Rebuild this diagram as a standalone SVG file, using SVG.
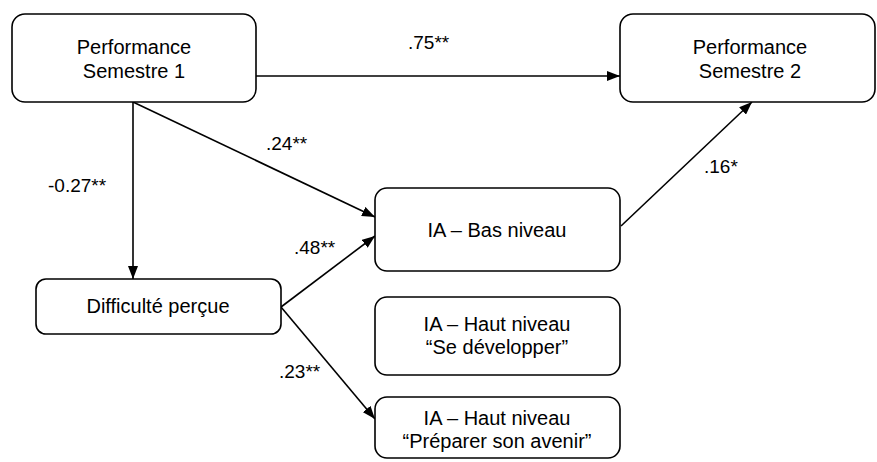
<svg xmlns="http://www.w3.org/2000/svg" width="877" height="462" viewBox="0 0 877 462">
<style>
.box{fill:#fff;stroke:#000;stroke-width:1.6}
.t{font-family:"Liberation Sans",Arial,sans-serif;font-size:20px;fill:#000;text-anchor:middle}
.l{font-family:"Liberation Sans",Arial,sans-serif;font-size:19px;fill:#000}
.c{fill:none;stroke:#000;stroke-width:1.6}
</style>
<defs>
<marker id="ah" markerUnits="userSpaceOnUse" markerWidth="13" markerHeight="10" refX="13" refY="5" orient="auto">
<path d="M0,0 L13,5 L0,10 z" fill="#000"/>
</marker>
</defs>
<rect width="877" height="462" fill="#fff"/>
<g id="connectors">
<path class="c" d="M256,76 L620,76" marker-end="url(#ah)"/>
<path class="c" d="M133,102 L133,279" marker-end="url(#ah)"/>
<path class="c" d="M133,102 L375,217" marker-end="url(#ah)"/>
<path class="c" d="M281,307 L375,236" marker-end="url(#ah)"/>
<path class="c" d="M281,307 L375,419" marker-end="url(#ah)"/>
<path class="c" d="M621,226 L752,102" marker-end="url(#ah)"/>
<text class="l" x="408" y="49">.75**</text>
<text class="l" x="266" y="150">.24**</text>
<text class="l" x="48" y="192">-0.27**</text>
<text class="l" x="294" y="254">.48**</text>
<text class="l" x="704" y="173">.16*</text>
<text class="l" x="279" y="378">.23**</text>
</g>
<g id="perf1">
<rect class="box" x="12" y="14" width="244" height="88" rx="13"/>
<text class="t" x="134" y="54">Performance</text>
<text class="t" x="134" y="78">Semestre 1</text>
</g>
<g id="perf2">
<rect class="box" x="620" y="14" width="255" height="88" rx="13"/>
<text class="t" x="750" y="54">Performance</text>
<text class="t" x="750" y="78">Semestre 2</text>
</g>
<g id="ia-bas">
<rect class="box" x="375" y="188" width="245" height="83" rx="12"/>
<text class="t" x="497" y="237">IA – Bas niveau</text>
</g>
<g id="difficulte">
<rect class="box" x="36" y="279" width="245" height="55" rx="10"/>
<text class="t" x="158" y="313">Difficulté perçue</text>
</g>
<g id="ia-haut-dev">
<rect class="box" x="375" y="297" width="245" height="78" rx="12"/>
<text class="t" x="497" y="331">IA – Haut niveau</text>
<text class="t" x="497" y="354">“Se développer”</text>
</g>
<g id="ia-haut-avenir">
<rect class="box" x="375" y="397" width="245" height="61" rx="12"/>
<text class="t" x="497" y="425">IA – Haut niveau</text>
<text class="t" x="497" y="448">“Préparer son avenir”</text>
</g>
</svg>
